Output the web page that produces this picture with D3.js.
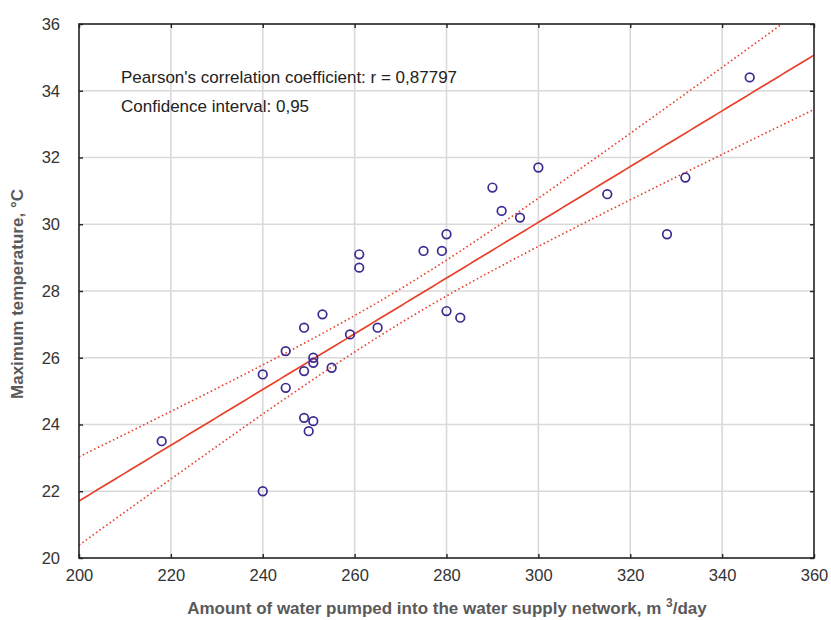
<!DOCTYPE html>
<html>
<head>
<meta charset="utf-8">
<script src="https://cdn.jsdelivr.net/npm/d3@7"></script>
<style>
  html, body { margin: 0; padding: 0; background: #fff; }
  svg { display: block; font-family: "Liberation Sans", Arial, sans-serif; }
</style>
</head>
<body>
<svg id="chart" width="831" height="620"></svg>
<script>
// Water pumped (m3/day) vs. maximum temperature (°C)
const waterPumped = [218, 240, 240, 245, 245, 249, 249, 249, 250, 251, 251, 251,
  253, 255, 259, 265, 280, 283, 261, 261, 275, 279, 280, 290, 292, 296, 300,
  315, 328, 332, 346];
const maxTemp = [23.5, 22.0, 25.5, 26.2, 25.1, 26.9, 25.6, 24.2, 23.8, 24.1, 26.0, 25.85,
  27.3, 25.7, 26.7, 26.9, 27.4, 27.2, 29.1, 28.7, 29.2, 29.2, 29.7, 31.1, 30.4, 30.2, 31.7,
  30.9, 29.7, 31.4, 34.4];

const xTicks = [200, 220, 240, 260, 280, 300, 320, 340, 360];
const yTicks = [20, 22, 24, 26, 28, 30, 32, 34, 36];
const annotations = ["Pearson's correlation coefficient: r = 0,87797", "Confidence interval: 0,95"];
const tCrit = 2.045; // Student t, 95 %, df = 29

const W = 831, H = 620;
const m = { left: 79, right: 17, top: 24, bottom: 62 };
const svg = d3.select("#chart");

const x = d3.scaleLinear().domain([200, 360]).range([m.left, W - m.right]);
const y = d3.scaleLinear().domain([20, 36]).range([H - m.bottom, m.top]);

// grid
const g = svg.append("g");
g.selectAll(".vx").data(xTicks.slice(1, -1)).join("line")
  .attr("x1", d => x(d)).attr("x2", d => x(d))
  .attr("y1", y(20)).attr("y2", y(36))
  .attr("stroke", "#d9d9d9").attr("stroke-width", 1.6);
g.selectAll(".hy").data(yTicks.slice(1, -1)).join("line")
  .attr("y1", d => y(d)).attr("y2", d => y(d))
  .attr("x1", x(200)).attr("x2", x(360))
  .attr("stroke", "#d9d9d9").attr("stroke-width", 1.6);

// least squares fit with 95 % confidence band for the mean
const n = waterPumped.length;
const mx = d3.mean(waterPumped), my = d3.mean(maxTemp);
let sxx = 0, sxy = 0;
for (let i = 0; i < n; i++) {
  sxx += (waterPumped[i] - mx) ** 2;
  sxy += (waterPumped[i] - mx) * (maxTemp[i] - my);
}
const slope = sxy / sxx, intercept = my - slope * mx;
let sse = 0;
for (let i = 0; i < n; i++) sse += (maxTemp[i] - (intercept + slope * waterPumped[i])) ** 2;
const se = Math.sqrt(sse / (n - 2));
const xs = d3.range(200, 360.01, 1);
const fit = xv => intercept + slope * xv;
const half = xv => tCrit * se * Math.sqrt(1 / n + (xv - mx) ** 2 / sxx);

svg.append("clipPath").attr("id", "plotClip")
  .append("rect").attr("x", x(200)).attr("y", y(36))
  .attr("width", x(360) - x(200)).attr("height", y(20) - y(36));

const line = d3.line().x(d => x(d[0])).y(d => y(d[1]));
const lines = svg.append("g").attr("clip-path", "url(#plotClip)");
lines.append("path").datum(xs.map(v => [v, fit(v) + half(v)]))
  .attr("d", line).attr("fill", "none").attr("stroke", "#e8402a")
  .attr("stroke-width", 1.6).attr("stroke-dasharray", "1.6,2.6");
lines.append("path").datum(xs.map(v => [v, fit(v) - half(v)]))
  .attr("d", line).attr("fill", "none").attr("stroke", "#e8402a")
  .attr("stroke-width", 1.6).attr("stroke-dasharray", "1.6,2.6");
lines.append("path").datum(xs.map(v => [v, fit(v)]))
  .attr("d", line).attr("fill", "none").attr("stroke", "#e8402a")
  .attr("stroke-width", 1.7);

// points
svg.append("g").selectAll("circle").data(waterPumped.map((v, i) => [v, maxTemp[i]]))
  .join("circle")
  .attr("cx", d => x(d[0])).attr("cy", d => y(d[1])).attr("r", 4.3)
  .attr("fill", "none").attr("stroke", "#3d2a8f").attr("stroke-width", 1.7);

// frame
svg.append("rect").attr("x", x(200)).attr("y", y(36))
  .attr("width", x(360) - x(200)).attr("height", y(20) - y(36))
  .attr("fill", "none").attr("stroke", "#222").attr("stroke-width", 1.6);

// axes with inward ticks
const axStyle = sel => {
  sel.select(".domain").remove();
  sel.selectAll(".tick line").attr("stroke", "#222").attr("stroke-width", 1.4);
  sel.selectAll(".tick text").attr("fill", "#333").attr("font-size", 16.5)
    .attr("font-family", "Liberation Sans, Arial, sans-serif");
};
svg.append("g").attr("transform", `translate(0,${y(20)})`)
  .call(d3.axisBottom(x).tickValues(xTicks).tickSize(-4).tickPadding(11).tickFormat(d3.format("d")))
  .call(axStyle);
svg.append("g").attr("transform", `translate(0,${y(36)})`)
  .call(d3.axisTop(x).tickValues(xTicks).tickSize(-4).tickFormat(""))
  .call(axStyle);
svg.append("g").attr("transform", `translate(${x(200)},0)`)
  .call(d3.axisLeft(y).tickValues(yTicks).tickSize(-4).tickPadding(19).tickFormat(d3.format("d")))
  .call(axStyle);
svg.append("g").attr("transform", `translate(${x(360)},0)`)
  .call(d3.axisRight(y).tickValues(yTicks).tickSize(-4).tickFormat(""))
  .call(axStyle);

// annotations
svg.selectAll(".note").data(annotations).join("text")
  .attr("x", 121).attr("y", (d, i) => 83 + i * 28.5)
  .attr("font-size", 17).attr("fill", "#222").text(d => d);

// axis titles
const xt = svg.append("text").attr("x", 447).attr("y", 614)
  .attr("text-anchor", "middle").attr("font-size", 17).attr("font-weight", "bold")
  .attr("fill", "#5a5a5a");
xt.append("tspan").text("Amount of water pumped into the water supply network, m ");
xt.append("tspan").attr("dy", -7).attr("font-size", 12).text("3");
xt.append("tspan").attr("dy", 7).text("/day");

svg.append("text").attr("transform", `translate(23,${(y(20) + y(36)) / 2 + 3}) rotate(-90)`)
  .attr("text-anchor", "middle").attr("font-size", 17).attr("font-weight", "bold")
  .attr("fill", "#5a5a5a").attr("textLength", 210).text("Maximum temperature, °C");
</script>
</body>
</html>
